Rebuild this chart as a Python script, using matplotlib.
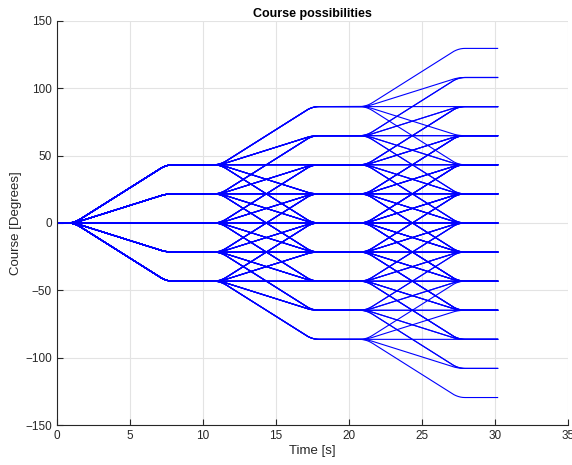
import itertools
import numpy as np
import matplotlib
matplotlib.use("Agg")
import matplotlib.pyplot as plt

plt.rcParams['font.family'] = ['Liberation Sans', 'DejaVu Sans']

# ===== data =====
STEP = 21.6                       # course step [deg]
CHANGES = [-2, -1, 0, 1, 2]       # step changes allowed in each manoeuvre
TURN_START = [1.2, 11.2, 21.2]    # s
TURN_END = [7.5, 17.5, 27.5]      # s
T_END = 30.2                      # s
BLEND = 0.9                       # corner rounding width [s]

x_ticks = [0, 5, 10, 15, 20, 25, 30, 35]
y_ticks = [-150, -100, -50, 0, 50, 100, 150]

t = np.linspace(0, T_END, 3021)
dt = t[1] - t[0]
kernel_n = int(round(BLEND / dt))
kernel = np.ones(kernel_n) / kernel_n


def course_path(steps):
    # knots of the manoeuvre: hold, turn, hold, turn ...
    kt = [0.0]
    kv = [0.0]
    level = 0.0
    for s, ts, te in zip(steps, TURN_START, TURN_END):
        kt += [ts, te]
        kv += [level, level + s * STEP]
        level += s * STEP
    kt.append(T_END)
    kv.append(level)
    y = np.interp(t, kt, kv)
    pad = kernel_n
    yp = np.concatenate([np.full(pad, y[0]), y, np.full(pad, y[-1])])
    ys = np.convolve(yp, kernel, mode="same")[pad:-pad]
    return ys


fig = plt.figure(figsize=(5.72, 4.65), dpi=100)
ax = fig.add_axes([0.099, 0.086, 0.8935, 0.869])

for steps in itertools.product(CHANGES, repeat=len(TURN_START)):
    ax.plot(t, course_path(steps), color="#0000ff", linewidth=0.8)

ax.set_xlim(0, 35)
ax.set_ylim(-150, 150)
ax.set_xticks(x_ticks)
ax.set_yticks(y_ticks)
ax.grid(True, color="#e3e3e3", linewidth=0.8)
ax.set_axisbelow(True)
for side in ("top", "right"):
    ax.spines[side].set_visible(False)
for side in ("left", "bottom"):
    ax.spines[side].set_color("#262626")
    ax.spines[side].set_linewidth(0.8)
ax.tick_params(direction="in", length=4, width=0.8, colors="#262626",
               labelsize=8.5, labelcolor="#262626")
ax.set_xlabel("Time [s]", fontsize=9.5, color="#262626", labelpad=2)
ax.set_ylabel("Course [Degrees]", fontsize=9.5, color="#262626", labelpad=2)
ax.set_title("Course possibilities", fontsize=9, fontweight="bold", pad=3)

fig.savefig("out.png", dpi=100)
